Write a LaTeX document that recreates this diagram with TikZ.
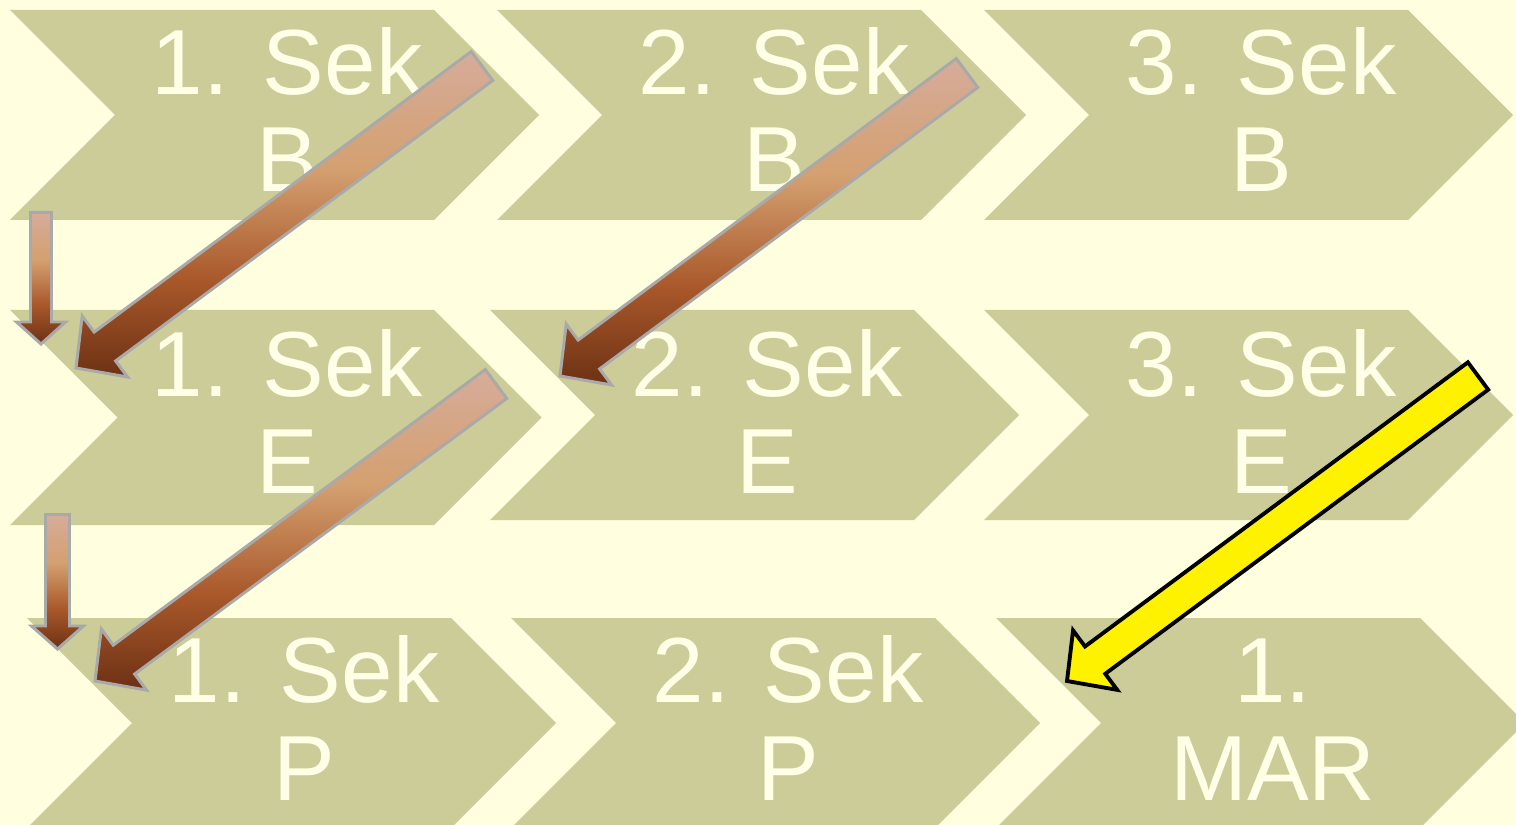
\documentclass[tikz,border=0pt]{standalone}
\usepackage{fontspec}
\setmainfont{Liberation Sans}
\usetikzlibrary{calc}

\definecolor{pagecream}{HTML}{FFFFE0}
\definecolor{chevolive}{HTML}{CCCC99}
\definecolor{textcream}{HTML}{FFFFE8}
\definecolor{arrowgray}{HTML}{A9A9A9}
\definecolor{coppink}{HTML}{D6AC9A}
\definecolor{coporange}{HTML}{D4A070}
\definecolor{coprust}{HTML}{A9582A}
\definecolor{copdark}{HTML}{6C3114}

% light at the top, dark at the bottom (the path covers 25bp to 75bp)
\pgfdeclareverticalshading{copper}{100bp}{color(0bp)=(copdark); color(25bp)=(copdark); color(40bp)=(coprust); color(57bp)=(coporange); color(75bp)=(coppink); color(100bp)=(coppink)}

% block arrow: style, tail, tip, shaft half width, head half width, head length (px)
\newcommand{\sekarrow}[6]{%
  \coordinate (#3 base) at ($(#3)!#6*\px!(#2)$);
  \path[#1] ($(#2)!#4*\px!90:(#3)$) -- ($(#3 base)!#4*\px!90:(#3)$)
    -- ($(#3 base)!#5*\px!90:(#3)$) -- (#3)
    -- ($(#3 base)!#5*\px!-90:(#3)$) -- ($(#3 base)!#4*\px!-90:(#3)$)
    -- ($(#2)!#4*\px!-90:(#3)$) -- cycle;
}

\begin{document}
\begin{tikzpicture}[x=0.01cm, y=-0.01cm,
    chevron/.style={fill=chevolive},
    sektext/.style={text=textcream, font=\fontsize{26.3}{27.6}\selectfont, align=center, inner sep=0pt, anchor=base},
    copperarrow/.style={shade, shading=copper, draw=arrowgray, line width=0.85pt, line join=miter},
    yellowarrow/.style={fill=yellow, draw=black, line width=1.1pt, line join=miter}]
    % Variables for the sizes
    \def\px{0.01cm}
    \def\chevtop{424}
    \def\textshift{277}

    % Page
    \fill[pagecream] (0,0) rectangle (1516,825);
    \useasboundingbox (0,0) rectangle (1516,825);
    \clip (0,0) rectangle (1516,825);

    % Chevrons: left x, top y, height
    \foreach \cx/\cy/\ch in {10/10/210, 497/10/210, 984/10/210,
                             10/310/215, 490/310/210, 984/310/210,
                             27/618/210, 511/618/210, 996/618/210}
        \fill[chevron] (\cx,\cy) -- ++(\chevtop,0) -- ++(\ch/2,\ch/2) -- ++(-\ch/2,\ch/2)
            -- ++(-\chevtop,0) -- ++(\ch/2,-\ch/2) -- cycle;

    % Labels of the chevrons (base = baseline of the second line)
    \node[sektext] (b1) at (10+\textshift,192) {1. Sek\\B};
    \node[sektext] (b2) at (497+\textshift,192) {2. Sek\\B};
    \node[sektext] (b3) at (984+\textshift,192) {3. Sek\\B};
    \node[sektext] (e1) at (10+\textshift,494) {1. Sek\\E};
    \node[sektext] (e2) at (490+\textshift,494) {2. Sek\\E};
    \node[sektext] (e3) at (984+\textshift,494) {3. Sek\\E};
    \node[sektext] (p1) at (27+\textshift,800) {1. Sek\\P};
    \node[sektext] (p2) at (511+\textshift,800) {2. Sek\\P};
    \node[sektext] (mar) at (996+\textshift,800) {1.\\MAR};

    % Ends of the arrows
    \coordinate (b1 tail) at (482,66);
    \coordinate (e1 tip) at (76,368);
    \coordinate (b2 tail) at (967,73);
    \coordinate (e2 tip) at (560,376);
    \coordinate (e1 tail) at (496,384);
    \coordinate (p1 tip) at (95,681);
    \coordinate (e3 tail) at (1478,376);
    \coordinate (mar tip) at (1067,681);
    \coordinate (down1 tail) at (41,212.5);
    \coordinate (down1 tip) at (41,344);
    \coordinate (down2 tail) at (57.5,514.5);
    \coordinate (down2 tip) at (57.5,649);

    % Diagonal arrows
    \sekarrow{copperarrow}{b1 tail}{e1 tip}{18}{38}{36}
    \sekarrow{copperarrow}{b2 tail}{e2 tip}{18}{38}{36}
    \sekarrow{copperarrow}{e1 tail}{p1 tip}{18}{38}{36}
    \sekarrow{yellowarrow}{e3 tail}{mar tip}{17}{37}{35}

    % Small arrows down the left side
    \sekarrow{copperarrow}{down1 tail}{down1 tip}{10.5}{24.5}{22}
    \sekarrow{copperarrow}{down2 tail}{down2 tip}{12}{26}{23}
\end{tikzpicture}
\end{document}
